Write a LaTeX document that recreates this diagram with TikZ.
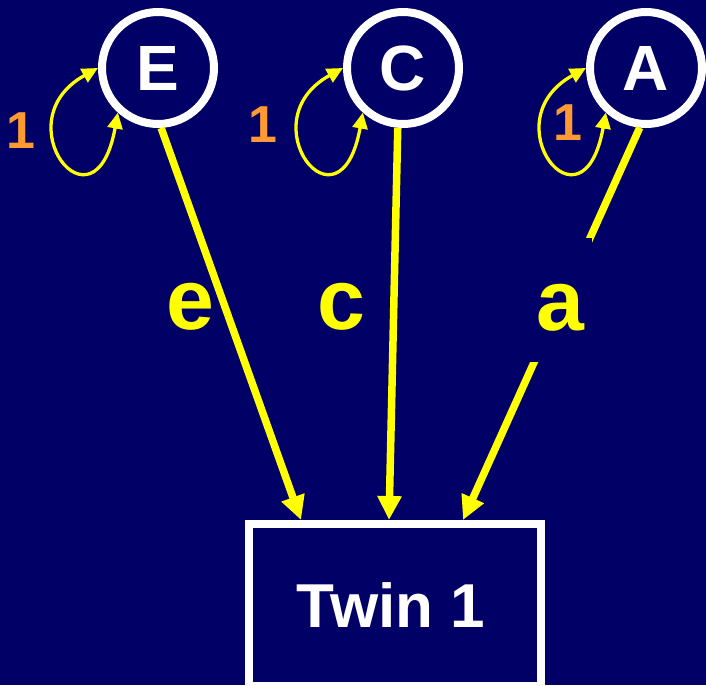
\documentclass[tikz,border=0pt]{standalone}
\usepackage{fontspec}
\setmainfont{Liberation Sans}
\usetikzlibrary{arrows.meta}
\definecolor{navy}{RGB}{0,0,102}
\definecolor{pathyellow}{RGB}{255,255,0}
\definecolor{varorange}{RGB}{255,153,51}
\begin{document}
\begin{tikzpicture}[x=1pt,y=-1pt,
  latent/.style={circle, draw=white, line width=8pt, minimum size=112pt,
    inner sep=0pt, text=white, font=\bfseries\fontsize{64}{70}\selectfont},
  observed/.style={rectangle, draw=white, line width=8pt, minimum width=292pt,
    minimum height=162pt, inner sep=0pt},
  boxtext/.style={text=white, inner sep=0pt,
    font=\bfseries\fontsize{62}{68}\selectfont},
  causal/.style={draw=pathyellow, line width=7.5pt,
    -{Triangle[length=24pt,width=23pt]}},
  variance/.style={draw=pathyellow, line width=3.3pt,
    {Triangle[length=16pt,width=15pt]}-{Triangle[length=16pt,width=15pt]}},
  pathlabel/.style={text=pathyellow, inner sep=0pt, anchor=base,
    font=\bfseries\fontsize{86}{90}\selectfont},
  varlabel/.style={text=varorange, inner sep=0pt,
    font=\bfseries\fontsize{52}{56}\selectfont}
]
% background and page frame
\fill[navy] (0,0) rectangle (706,685);
\useasboundingbox (0,0) rectangle (706,685);
\clip (0,0) rectangle (706,685);

% latent factors and the measured twin
\node[latent] (E) at (158,68) {E};
\node[latent] (C) at (403,68) {C};
\node[latent] (A) at (646,68) {A};
\node[observed] (Twin) at (395,605) {};
\node[boxtext] (TwinText) at (391,605) {Twin 1};

% variance loops
\draw[variance] (E.180) .. controls +(-96,53) and +(-23,128) .. (E.-132);
\draw[variance] (C.180) .. controls +(-96,53) and +(-23,128) .. (C.-132);
\draw[variance] (A.180) .. controls +(-96,53) and +(-23,128) .. (A.-132);
\node[varlabel] (vE) at (21,131) {1};
\node[varlabel] (vC) at (263,125) {1};
\node[varlabel] (vA) at (568,123) {1};

% path coefficients
\draw[causal] (E.-87) -- ([xshift=-94pt]Twin.north);
\draw[causal] (C.-95) -- ([xshift=-6pt]Twin.north);
\draw[causal] (A.-96) -- ([xshift=68pt]Twin.north);
\node[pathlabel] (le) at (190,329) {e};
\node[pathlabel] (lc) at (341,329) {c};
\node[pathlabel, fill=navy, minimum width=64pt, text height=92pt,
  text depth=32pt] (la) at (560,330) {a};
\end{tikzpicture}
\end{document}
